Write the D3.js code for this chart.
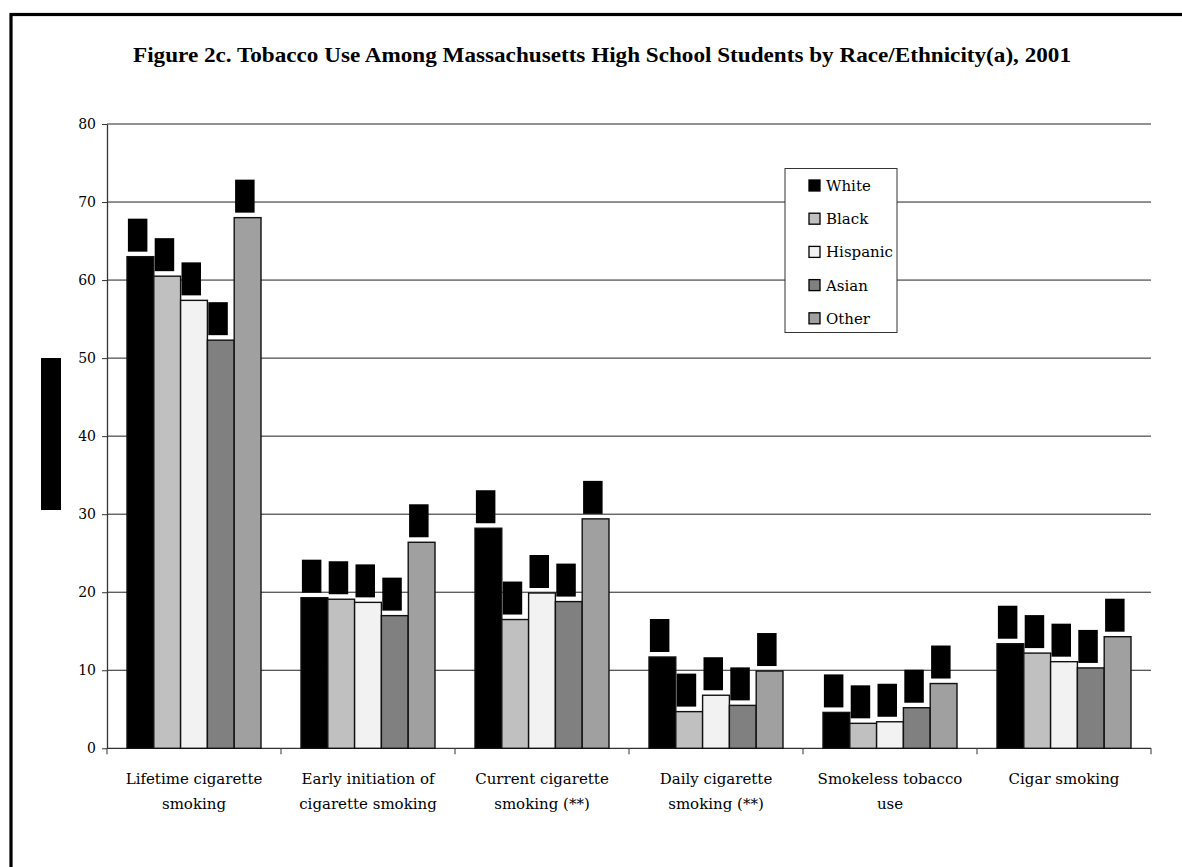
<!DOCTYPE html>
<html>
<head>
<meta charset="utf-8">
<script src="https://cdn.jsdelivr.net/npm/d3@7"></script>
<style>
  html, body { margin: 0; padding: 0; background: #fff; }
  svg { display: block; }
</style>
</head>
<body>
<svg id="chart" width="1182" height="867"></svg>
<script>
const categories = [
  ["Lifetime cigarette", "smoking"],
  ["Early initiation of", "cigarette smoking"],
  ["Current cigarette", "smoking (**)"],
  ["Daily cigarette", "smoking (**)"],
  ["Smokeless tobacco", "use"],
  ["Cigar smoking"]
];
const seriesNames = ["White", "Black", "Hispanic", "Asian", "Other"];
const white    = [63.0, 19.3, 28.2, 11.7, 4.6, 13.4];
const black    = [60.5, 19.1, 16.5, 4.7, 3.2, 12.2];
const hispanic = [57.4, 18.7, 19.9, 6.8, 3.4, 11.1];
const asian    = [52.3, 17.0, 18.8, 5.5, 5.2, 10.3];
const other    = [68.0, 26.4, 29.4, 9.9, 8.3, 14.3];
const seriesValues = [white, black, hispanic, asian, other];
const yTicks = [0, 10, 20, 30, 40, 50, 60, 70, 80];
const colors = ["#000000", "#c0c0c0", "#f2f2f2", "#808080", "#a0a0a0"];
const title = "Figure 2c. Tobacco Use Among Massachusetts High School Students by Race/Ethnicity(a), 2001";

const svg = d3.select("#chart");
const serif = "'DejaVu Serif', serif";

// outer frame (extends beyond the view on right and bottom)
svg.append("rect")
  .attr("x", 11).attr("y", 14.5)
  .attr("width", 1300).attr("height", 1000)
  .attr("fill", "none").attr("stroke", "#000").attr("stroke-width", 3.2);

// title
svg.append("text")
  .attr("x", 133).attr("y", 62)
  .attr("textLength", 938).attr("lengthAdjust", "spacingAndGlyphs")
  .attr("font-family", "'Liberation Serif', serif")
  .attr("font-weight", "bold").attr("font-size", 21)
  .text(title);

const plotLeft = 107, plotRight = 1151, plotTop = 124, plotBottom = 748.3;
const keys = categories.map((c, i) => i);
const x0 = d3.scaleBand().domain(keys).range([plotLeft, plotRight]).padding(0);
const x1 = d3.scaleBand().domain(seriesNames).range([20, x0.bandwidth() - 20]).padding(0);
const y = d3.scaleLinear().domain([0, 80]).range([plotBottom, plotTop]);

// gridlines
svg.append("g").selectAll("line").data(yTicks.filter(t => t > 0)).join("line")
  .attr("x1", plotLeft).attr("x2", plotRight)
  .attr("y1", d => y(d)).attr("y2", d => y(d))
  .attr("stroke", "#222").attr("stroke-width", 1);

// y axis
const yAxis = d3.axisLeft(y).tickValues(yTicks).tickSize(5).tickPadding(6).tickSizeOuter(0);
const gy = svg.append("g").attr("transform", `translate(${plotLeft},0)`).call(yAxis);
gy.select(".domain").attr("stroke", "#333").attr("stroke-width", 1.3);
gy.selectAll(".tick line").attr("stroke", "#333");
gy.selectAll(".tick text").attr("font-family", serif).attr("font-size", 14).attr("fill", "#000");

// x axis line and boundary ticks
const xAxisG = svg.append("g");
xAxisG.append("line").attr("x1", plotLeft).attr("x2", plotRight)
  .attr("y1", plotBottom).attr("y2", plotBottom)
  .attr("stroke", "#333").attr("stroke-width", 1.3);
const bounds = keys.map(k => x0(k)).concat([x0(keys[keys.length - 1]) + x0.bandwidth()]);
xAxisG.selectAll("line.t").data(bounds).join("line").attr("class", "t")
  .attr("x1", d => d).attr("x2", d => d)
  .attr("y1", plotBottom).attr("y2", plotBottom + 6)
  .attr("stroke", "#333").attr("stroke-width", 1);

// bars
const barData = [];
keys.forEach(k => seriesNames.forEach((s, si) => barData.push({ k, s, si, v: seriesValues[si][k] })));
svg.append("g").selectAll("rect").data(barData).join("rect")
  .attr("x", d => x0(d.k) + x1(d.s))
  .attr("y", d => y(d.v))
  .attr("width", x1.bandwidth())
  .attr("height", d => y(0) - y(d.v))
  .attr("fill", d => colors[d.si])
  .attr("stroke", "#111").attr("stroke-width", 1.4);

// redacted data labels (black boxes above bars)
svg.append("g").selectAll("rect").data(barData).join("rect")
  .attr("x", d => x0(d.k) + x1(d.s) + x1.bandwidth() / 2 - 12.5)
  .attr("y", d => y(d.v) - 5 - 33)
  .attr("width", 19.5).attr("height", 33)
  .attr("fill", "#000");

// redacted y-axis title
svg.append("rect").attr("x", 41).attr("y", 358).attr("width", 20).attr("height", 152).attr("fill", "#000");

// category labels
const catG = svg.append("g");
categories.forEach((lines, k) => {
  const cx = x0(k) + x0.bandwidth() / 2;
  lines.forEach((ln, li) => {
    catG.append("text")
      .attr("x", cx).attr("y", 784 + li * 25)
      .attr("text-anchor", "middle")
      .attr("font-family", serif).attr("font-size", 15)
      .text(ln);
  });
});

// legend
const lg = svg.append("g");
lg.append("rect").attr("x", 785).attr("y", 168.5).attr("width", 112).attr("height", 164)
  .attr("fill", "#fff").attr("stroke", "#333").attr("stroke-width", 1);
seriesNames.forEach((s, i) => {
  const cy = 185.5 + i * 33.2;
  lg.append("rect").attr("x", 809).attr("y", cy - 5.5).attr("width", 11).attr("height", 11)
    .attr("fill", colors[i]).attr("stroke", "#000").attr("stroke-width", 1.3);
  lg.append("text").attr("x", 826).attr("y", cy + 5.5)
    .attr("font-family", serif).attr("font-size", 15).text(s);
});
</script>
</body>
</html>
